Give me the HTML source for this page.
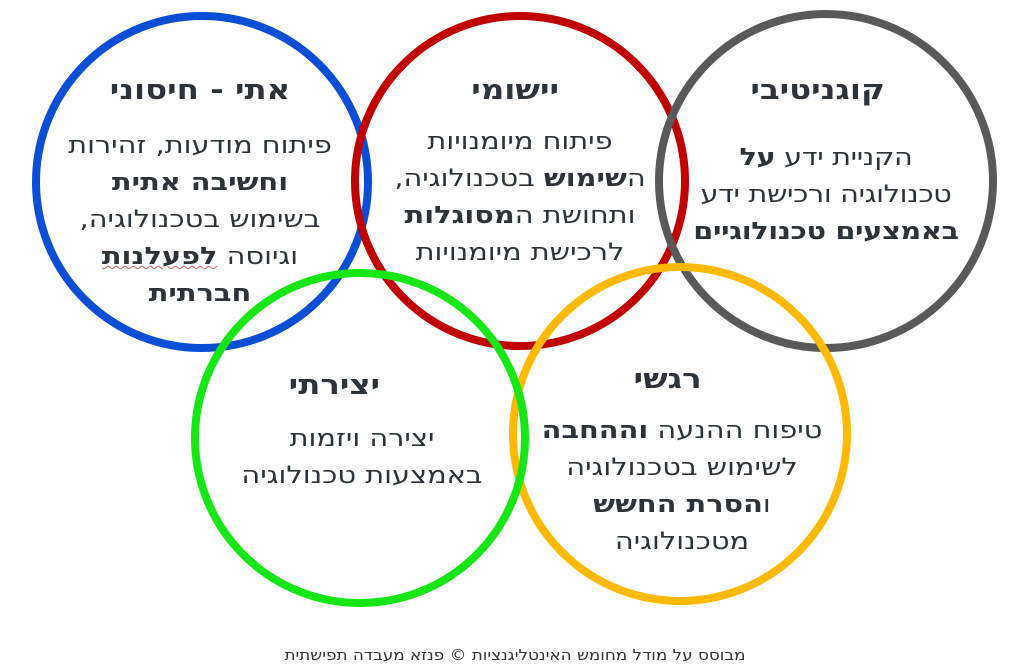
<!DOCTYPE html>
<html><head><meta charset="utf-8"><style>
body{margin:0;width:1030px;height:667px;background:#fff;overflow:hidden;position:relative;font-family:"DejaVu Sans","Liberation Sans",sans-serif;color:#2d3339}
svg{position:absolute;left:0;top:0}
.t{position:absolute;direction:rtl;text-align:center;width:360px;font-size:24px;line-height:37px;white-space:nowrap;transform:scaleX(1.2);transform-origin:50% 0}
.t h{display:block;font-weight:bold;font-size:27px;line-height:36px;margin-bottom:18px;position:relative}
b{font-weight:bold}
.f{position:absolute;left:0;width:1030px;top:646px;text-align:center;direction:rtl;font-size:15px;color:#333;transform:scaleX(1.12)}
</style></head><body>
<svg width="1030" height="667">
<g fill="none" stroke-width="8">
<circle cx="202" cy="182" r="166" stroke="#0a4ed6"/>
<circle cx="520" cy="181" r="165" stroke="#c00000"/>
<circle cx="826" cy="181" r="167" stroke="#595959"/>
<circle cx="680" cy="434" r="167" stroke="#ffba00"/>
<circle cx="360" cy="438" r="165" stroke="#16e616"/>
</g></svg>
<div class="t" style="left:20px;top:73px"><h>אתי - חיסוני</h>פיתוח מודעות, זהירות<br><b>וחשיבה אתית</b><br>בשימוש בטכנולוגיה,<br>וגיוסה <b style="text-decoration:underline wavy #d66;text-decoration-thickness:1px">לפעלנות</b><br><b>חברתית</b></div>
<div class="t" style="left:340px;top:73px"><h style="margin-bottom:14px;left:-4px">יישומי</h>פיתוח מיומנויות<br>ה<b>שימוש</b> בטכנולוגיה,<br>ותחושת ה<b>מסוגלות</b><br>לרכישת מיומנויות</div>
<div class="t" style="left:646px;top:73px;letter-spacing:-0.3px"><h style="margin-bottom:30px;left:-7px;letter-spacing:0">קוגניטיבי</h>הקניית ידע <b>על</b><br>טכנולוגיה ורכישת ידע<br><b>באמצעים טכנולוגיים</b></div>
<div class="t" style="left:182px;top:368px"><h style="margin-bottom:16px;left:-23px">יצירתי</h>יצירה ויזמות<br>באמצעות טכנולוגיה</div>
<div class="t" style="left:502px;top:362px"><h style="margin-bottom:14px;left:-12px">רגשי</h>טיפוח ההנעה <b>וההחבה</b><br>לשימוש בטכנולוגיה<br>ו<b>הסרת החשש</b><br>מטכנולוגיה</div>
<div class="f">מבוסס על מודל מחומש האינטליגנציות © פנזא מעבדה תפישתית</div>
</body></html>
